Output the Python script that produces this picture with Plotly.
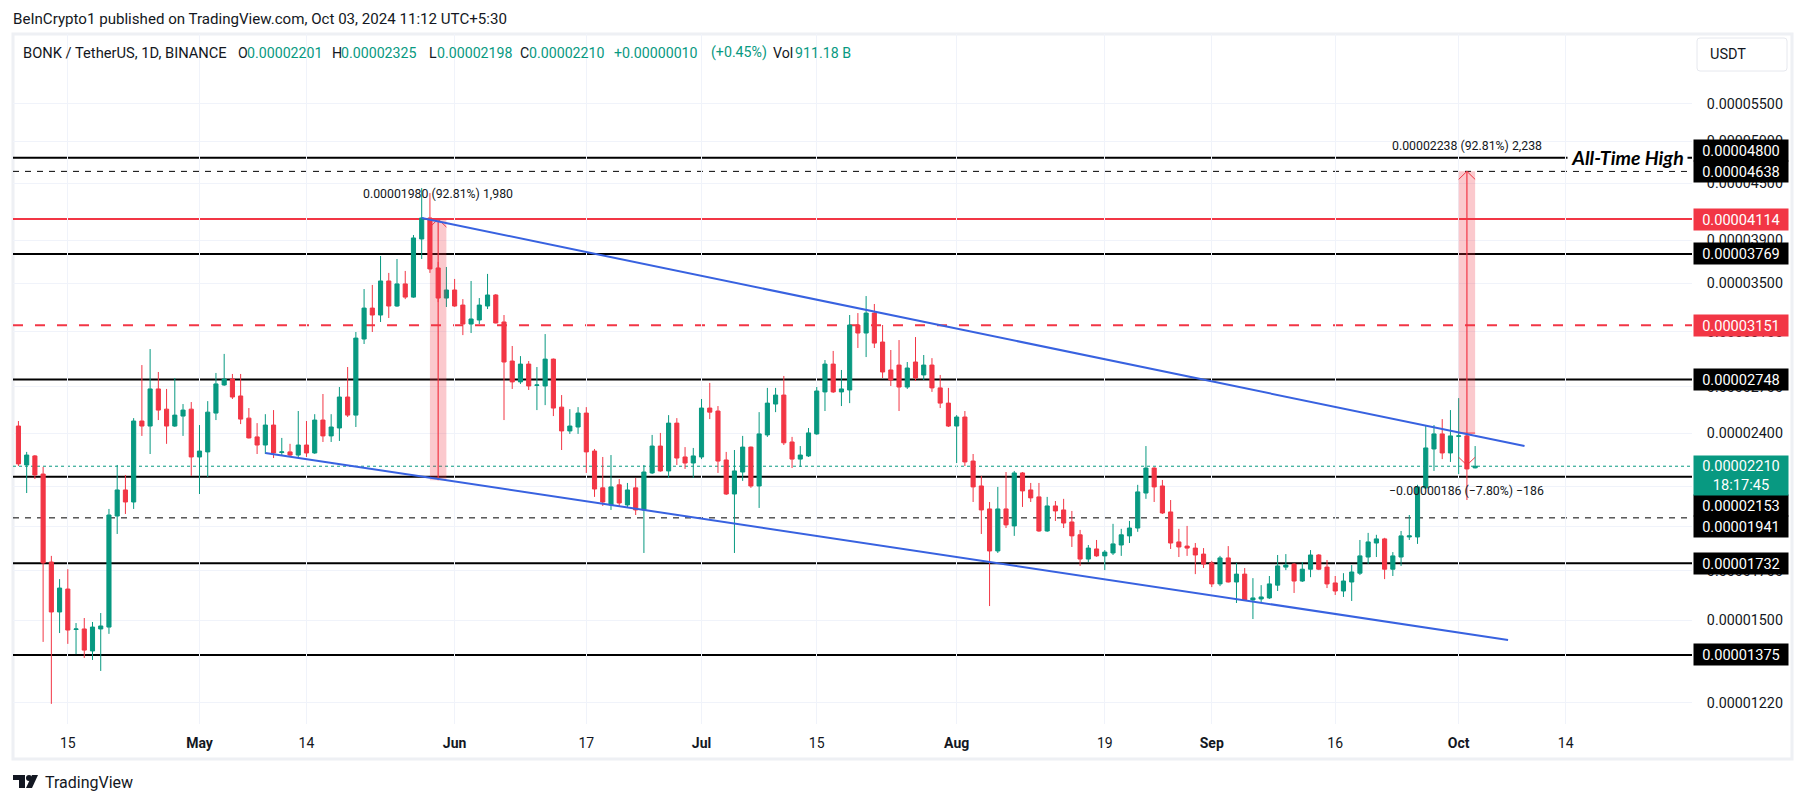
import math
import datetime as dt
import plotly.graph_objects as go

# prices are in units of 0.00000001 USDT
UNIT = 1e-8
start_date = dt.date(2024, 4, 9)

opens = [
    2445, 2217, 2268, 2167, 1737, 1532, 1623, 1466, 1468, 1389,
    1468, 1475, 1950, 2082, 2020, 2476, 2445, 2684, 2551, 2445,
    2507, 2551, 2262, 2291, 2526, 2711, 2752, 2637, 2494, 2379,
    2331, 2451, 2288, 2291, 2273, 2331, 2285, 2482, 2385, 2433,
    2630, 2513, 3043, 3289, 3232, 3521, 3306, 3495, 3381, 3913,
    4125, 3638, 3373, 3442, 3314, 3160, 3192, 3306, 3399, 3176,
    2879, 2732, 2857, 2708, 2704, 2893, 2564, 2415, 2439, 2526,
    2296, 2093, 2005, 2109, 2005, 2093, 1980, 2173, 2325, 2184,
    2463, 2262, 2228, 2262, 2558, 2539, 2245, 2061, 2178, 2319,
    2103, 2391, 2584, 2643, 2349, 2250, 2268, 2397, 2664, 2857,
    2664, 2677, 3152, 3089, 3248, 3020, 2815, 2850, 2697, 2872,
    2780, 2850, 2691, 2590, 2445, 2501, 2239, 2103, 1985, 1786,
    1985, 1902, 2173, 2082, 2046, 1878, 2000, 1980, 1921, 1860,
    1750, 1795, 1764, 1777, 1813, 1855, 1892, 2066, 2200, 2103,
    1970, 1827, 1808, 1799, 1772, 1733, 1644, 1755, 1652, 1685,
    1579, 1583, 1587, 1639, 1715, 1728, 1656, 1706, 1768, 1715,
    1648, 1615, 1652, 1689, 1759, 1822, 1841, 1706, 1759, 1850,
    1850, 2093, 2308, 2397, 2285, 2383, 2385, 2201,
]
highs = [
    2476, 2291, 2273, 2206, 1764, 1664, 1706, 1490, 1509, 1494,
    1528, 1985, 2217, 2162, 2494, 2850, 2967, 2801, 2684, 2759,
    2584, 2597, 2451, 2603, 2794, 2931, 2787, 2787, 2558, 2463,
    2519, 2545, 2373, 2338, 2539, 2476, 2519, 2650, 2519, 2697,
    2836, 3097, 3450, 3486, 3749, 3593, 3721, 3611, 3952, 4447,
    4392, 3694, 3647, 3539, 3364, 3521, 3373, 3584, 3407, 3232,
    2990, 2915, 2879, 2836, 3081, 2897, 2643, 2551, 2564, 2564,
    2308, 2262, 2273, 2140, 2119, 2146, 2217, 2391, 2403, 2513,
    2494, 2319, 2314, 2617, 2725, 2571, 2291, 2302, 2385, 2322,
    2532, 2691, 2691, 2773, 2379, 2325, 2433, 2697, 2886, 2953,
    2815, 3232, 3248, 3390, 3323, 3152, 2960, 3035, 2872, 3058,
    2923, 2900, 2780, 2691, 2513, 2539, 2279, 2157, 2020, 2098,
    2178, 2184, 2178, 2119, 2119, 2046, 2025, 2036, 1975, 1883,
    1813, 1836, 1790, 1912, 1888, 1926, 2109, 2325, 2204, 2135,
    2030, 1888, 1902, 1822, 1799, 1742, 1764, 1808, 1733, 1711,
    1668, 1639, 1677, 1768, 1772, 1732, 1737, 1790, 1772, 1746,
    1677, 1689, 1724, 1836, 1869, 1860, 1846, 1781, 1878, 1955,
    2109, 2445, 2451, 2488, 2545, 2623, 2391, 2325,
]
lows = [
    2211, 2066, 2140, 1421, 1216, 1453, 1414, 1378, 1365, 1358,
    1321, 1450, 1864, 1960, 1985, 2385, 2279, 2482, 2338, 2440,
    2385, 2157, 2061, 2151, 2482, 2705, 2617, 2457, 2370, 2279,
    2279, 2256, 2273, 2262, 2256, 2262, 2280, 2349, 2349, 2355,
    2501, 2439, 3005, 3097, 3176, 3208, 3300, 3364, 3375, 3721,
    3593, 3339, 3298, 3300, 3073, 3089, 3160, 3281, 3165, 2482,
    2684, 2718, 2677, 2545, 2577, 2507, 2302, 2397, 2397, 2173,
    2046, 2000, 1980, 1995, 1990, 1955, 1777, 2167, 2180, 2146,
    2217, 2195, 2146, 2250, 2488, 2173, 2056, 1777, 2130, 2093,
    1990, 2379, 2532, 2331, 2200, 2206, 2262, 2392, 2539, 2657,
    2571, 2590, 2975, 2908, 2975, 2759, 2704, 2539, 2684, 2738,
    2745, 2664, 2558, 2439, 2228, 2211, 2020, 1864, 1555, 1777,
    1892, 1855, 1995, 2020, 1874, 1874, 1926, 1892, 1804, 1720,
    1737, 1760, 1702, 1768, 1764, 1822, 1874, 2036, 2020, 1960,
    1795, 1759, 1764, 1685, 1711, 1631, 1635, 1650, 1567, 1575,
    1505, 1571, 1583, 1615, 1702, 1607, 1652, 1672, 1702, 1627,
    1599, 1591, 1575, 1681, 1728, 1759, 1664, 1677, 1720, 1836,
    1818, 2090, 2184, 2250, 2234, 2167, 2030, 2198,
]
closes = [
    2223, 2273, 2162, 1733, 1532, 1627, 1464, 1468, 1392, 1475,
    1479, 1955, 2082, 2020, 2476, 2445, 2684, 2545, 2445, 2513,
    2545, 2262, 2296, 2532, 2718, 2752, 2630, 2488, 2373, 2331,
    2451, 2285, 2291, 2273, 2331, 2285, 2482, 2385, 2439, 2630,
    2513, 3050, 3289, 3232, 3521, 3306, 3495, 3381, 3923, 4125,
    3629, 3373, 3442, 3306, 3160, 3200, 3314, 3399, 3168, 2872,
    2732, 2857, 2704, 2711, 2893, 2558, 2415, 2445, 2526, 2291,
    2087, 2020, 2098, 2015, 2082, 1980, 2178, 2325, 2184, 2463,
    2256, 2228, 2268, 2558, 2532, 2239, 2061, 2184, 2319, 2103,
    2397, 2590, 2643, 2344, 2250, 2273, 2403, 2670, 2857, 2664,
    2684, 3152, 3089, 3248, 3012, 2801, 2745, 2697, 2829, 2759,
    2850, 2691, 2590, 2445, 2501, 2234, 2098, 1980, 1786, 1985,
    1907, 2173, 2077, 2041, 1878, 2000, 1975, 1916, 1855, 1750,
    1799, 1764, 1781, 1818, 1860, 1892, 2072, 2200, 2098, 1965,
    1822, 1804, 1799, 1768, 1728, 1644, 1755, 1652, 1685, 1579,
    1587, 1591, 1644, 1720, 1724, 1656, 1706, 1768, 1706, 1644,
    1615, 1656, 1694, 1764, 1827, 1841, 1706, 1764, 1855, 1855,
    2098, 2314, 2397, 2285, 2385, 2385, 2195, 2210,
]

# horizontal levels: value, colour, dash, width
level_values = [4800, 4638, 4114, 3769, 3151, 2748, 2153, 1941, 1732, 1375]
level_colors = ["#000000", "#000000", "#f23645", "#000000", "#f23645",
                "#000000", "#000000", "#000000", "#000000", "#000000"]
level_dashes = ["solid", "6px,6px", "solid", "solid", "10px,12px",
                "solid", "solid", "6px,6px", "solid", "solid"]
level_widths = [2, 1, 2, 2, 2, 2, 2, 1, 2, 2]
# labels pushed apart on the price scale, as TradingView does
level_label_shift = [7, 0, 0, 0, 0, 0, -28.5, -9, 0, 0]

# channel
upper_dates = ["2024-05-28", "2024-10-09"]
upper_prices = [4125, 2325]
lower_dates = ["2024-05-09", "2024-10-07"]
lower_prices = [2285, 1428]

# measure tools
measure_dates = [("2024-05-29", "2024-05-30", "2024-05-31"),
                 ("2024-10-01", "2024-10-02", "2024-10-03")]
measure_prices = [(2134, 4114), (2400, 4638)]
drop_prices = (2402, 2216)

tick_prices = [5500, 5000, 4500, 3900, 3500, 3100, 2700, 2400, 2100, 1900, 1700, 1500, 1220]
tick_dates = ["2024-04-15", "2024-05-01", "2024-05-14", "2024-06-01", "2024-06-17", "2024-07-01", "2024-07-15",
              "2024-08-01", "2024-08-19", "2024-09-01", "2024-09-16", "2024-10-01", "2024-10-14"]
tick_date_labels = ["15", "<b>May</b>", "14", "<b>Jun</b>", "17", "<b>Jul</b>", "15",
                    "<b>Aug</b>", "19", "<b>Sep</b>", "16", "<b>Oct</b>", "14"]

GREEN = "#089981"
RED = "#f23645"
DARK = "#131722"
GRID = "#f0f3fa"
BLUE = "#3862e0"
FONT = "Roboto"

# the page body adds 8px around the figure
PAGE = 8
W, H = 1805 - 2 * PAGE, 803 - 2 * PAGE
L, R, T, B = 13 - PAGE, 1692 - PAGE, 34 - PAGE, 724 - PAGE


def fmt(v):
    return f"{v * UNIT:.8f}"


def px(x):
    return (x - PAGE - L) / (R - L)


def py(y):
    return (B - (y - PAGE)) / (B - T)


dates = [start_date + dt.timedelta(days=i) for i in range(len(closes))]

fig = go.Figure(go.Candlestick(
    x=dates,
    open=[v * UNIT for v in opens],
    high=[v * UNIT for v in highs],
    low=[v * UNIT for v in lows],
    close=[v * UNIT for v in closes],
    increasing=dict(line=dict(color=GREEN, width=1), fillcolor=GREEN),
    decreasing=dict(line=dict(color=RED, width=1), fillcolor=RED),
    whiskerwidth=0,
    hoverinfo="skip",
    showlegend=False,
))

shapes = []
# outer frame
shapes.append(dict(type="rect", xref="paper", yref="paper", x0=0, x1=px(1792), y0=py(759), y1=1,
                   line=dict(color="#eef0f4", width=3), layer="below"))
for v, c, d, w in zip(level_values, level_colors, level_dashes, level_widths):
    shapes.append(dict(type="line", xref="paper", yref="y", x0=0, x1=1, y0=v * UNIT, y1=v * UNIT,
                       line=dict(color=c, dash=d, width=w), layer="below"))
# last price
shapes.append(dict(type="line", xref="paper", yref="y", x0=0, x1=1, y0=closes[-1] * UNIT, y1=closes[-1] * UNIT,
                   line=dict(color=GREEN, dash="dot", width=1), layer="below"))

for (d0, dm, d1), (lo, hi) in zip(measure_dates, measure_prices):
    shapes.append(dict(type="rect", x0=d0, x1=d1, y0=lo * UNIT, y1=hi * UNIT, yref="y", xref="x",
                       fillcolor="rgba(242,54,69,0.27)", line=dict(width=0), layer="above"))
    shapes.append(dict(type="line", x0=dm, x1=dm, y0=lo * UNIT, y1=hi * UNIT, yref="y", xref="x",
                       line=dict(color=RED, width=1.2), layer="above"))
    # arrow head
    for side in (d0, d1):
        shapes.append(dict(type="line", x0=side, x1=dm, y0=hi * UNIT * 0.98, y1=hi * UNIT, yref="y", xref="x",
                           line=dict(color=RED, width=1), layer="above"))

# the small drop measured on the last candles
d0, dm, d1 = measure_dates[1]
shapes.append(dict(type="line", x0=d0, x1=d1, y0=drop_prices[0] * UNIT, y1=drop_prices[0] * UNIT, yref="y", xref="x",
                   line=dict(color=RED, width=1), layer="above"))
shapes.append(dict(type="line", x0=dm, x1=dm, y0=drop_prices[0] * UNIT, y1=drop_prices[1] * UNIT, yref="y", xref="x",
                   line=dict(color=RED, width=1.2), layer="above"))
for side in (d0, d1):
    shapes.append(dict(type="line", x0=side, x1=dm, y0=drop_prices[1] * UNIT * 1.02, y1=drop_prices[1] * UNIT,
                       yref="y", xref="x", line=dict(color=RED, width=1), layer="above"))

# channel
shapes.append(dict(type="line", x0=upper_dates[0], x1=upper_dates[1], y0=upper_prices[0] * UNIT,
                   y1=upper_prices[1] * UNIT, yref="y", xref="x", line=dict(color=BLUE, width=2), layer="above"))
shapes.append(dict(type="line", x0=lower_dates[0], x1=lower_dates[1], y0=lower_prices[0] * UNIT,
                   y1=lower_prices[1] * UNIT, yref="y", xref="x", line=dict(color=BLUE, width=2), layer="above"))

# USDT button
shapes.append(dict(type="path", xref="paper", yref="paper", xsizemode="pixel", ysizemode="pixel", xanchor=0, yanchor=0,
                   path="M 1687 686 L 1771 686 Q 1774 686 1774 683 L 1774 656 Q 1774 653 1771 653 "
                        "L 1687 653 Q 1684 653 1684 656 L 1684 683 Q 1684 686 1687 686 Z",
                   line=dict(color="#e6e8ee", width=1), fillcolor="white", layer="above"))

# TradingView logo
for path in ["M 0 -51 L 12 -51 L 12 -64 L 6 -64 L 6 -56 L 0 -56 Z",
             "M 13 -54 Q 13 -51 16 -51 Q 19 -51 19 -54 Q 19 -57 16 -57 Q 13 -57 13 -54 Z",
             "M 19 -51 L 25 -51 L 19 -64 L 13 -64 Z"]:
    shapes.append(dict(type="path", xref="paper", yref="paper", xsizemode="pixel", ysizemode="pixel",
                       xanchor=0, yanchor=0, path=path, line=dict(width=0), fillcolor=DARK, layer="above"))

annotations = []


def text_at(text, x, y, size=14.2, color=DARK, **kw):
    annotations.append(dict(text=text, xref="paper", yref="paper", x=px(x), y=py(y), xanchor="left", yanchor="middle",
                            showarrow=False, font=dict(family=FONT, size=size, color=color), **kw))


text_at("BeInCrypto1 published on TradingView.com, Oct 03, 2024 11:12 UTC+5:30", 11, 19, size=15.1)
text_at("TradingView", 43, 782, size=16)

header_texts = ["BONK / TetherUS, 1D, BINANCE", "O", fmt(2201), "H", fmt(2325), "L", fmt(2198), "C", fmt(2210),
                "+0.00000010", "(+0.45%)", "Vol", "911.18 B"]
header_xs = [21, 235.5, 245, 330, 339, 427, 435, 518, 527, 612, 709, 771, 793]
header_colors = [DARK, DARK, GREEN, DARK, GREEN, DARK, GREEN, DARK, GREEN, GREEN, GREEN, DARK, GREEN]
for t, x, c in zip(header_texts, header_xs, header_colors):
    text_at(t, x, 53, color=c, size=14.7 if x == 21 else 14.2)

text_at("USDT", 1708, 54.5, size=14.5)

# price scale labels
for v, c, s in zip(level_values, level_colors, level_label_shift):
    annotations.append(dict(text=fmt(v), xref="paper", yref="y", x=1, y=math.log10(v * UNIT), xshift=1, yshift=s,
                            xanchor="left", yanchor="middle", showarrow=False, width=94, height=21, align="center",
                            bgcolor=c, borderpad=0, font=dict(family=FONT, size=14.6, color="white")))
annotations.append(dict(text=fmt(closes[-1]) + "<br>18:17:45", xref="paper", yref="y", x=1,
                        y=math.log10(closes[-1] * UNIT), xshift=1, yshift=-9, xanchor="left", yanchor="middle",
                        showarrow=False, width=94, height=39, align="center", bgcolor=GREEN, borderpad=0,
                        font=dict(family=FONT, size=14.6, color="white")))

# measure captions
annotations.append(dict(text="0.00001980 (92.81%) 1,980", x=measure_dates[0][1], y=math.log10(4114 * UNIT), yshift=25,
                        showarrow=False, font=dict(family=FONT, size=12.3, color=DARK)))
annotations.append(dict(text="0.00002238 (92.81%) 2,238", x=measure_dates[1][1], y=math.log10(4638 * UNIT), yshift=25,
                        showarrow=False, font=dict(family=FONT, size=12.3, color=DARK)))
annotations.append(dict(text="\u22120.00000186 (\u22127.80%) \u2212186", x=measure_dates[1][1],
                        y=math.log10(drop_prices[1] * UNIT), yshift=-26, showarrow=False,
                        font=dict(family=FONT, size=12.3, color=DARK)))

# line label, masks the 4800 level under it
annotations.append(dict(text="<b><i>All-Time High</i></b>", xref="paper", yref="y", x=px(1567), xanchor="left",
                        y=math.log10(4800 * UNIT), yshift=0, showarrow=False, bgcolor="white", width=117, align="center",
                        font=dict(family="Lato", size=19.5, color="#000000")))

fig.update_layout(
    width=W,
    height=H,
    margin=dict(l=L, r=W - R, t=T, b=H - B, autoexpand=False),
    paper_bgcolor="white",
    plot_bgcolor="white",
    showlegend=False,
    boxgap=0.5,
    boxgroupgap=0,
    font=dict(family=FONT, size=14, color=DARK),
    shapes=shapes,
    annotations=annotations,
    xaxis=dict(
        type="date",
        range=["2024-04-08 08:10", "2024-10-29 08:24"],
        rangeslider=dict(visible=False),
        tickmode="array",
        tickvals=tick_dates,
        ticktext=tick_date_labels,
        ticks="outside",
        ticklen=6,
        tickcolor="rgba(0,0,0,0)",
        tickfont=dict(family=FONT, size=14, color=DARK),
        showgrid=True,
        gridcolor=GRID,
        gridwidth=1,
        zeroline=False,
        showline=False,
    ),
    yaxis=dict(
        type="log",
        side="right",
        range=[math.log10(1156 * UNIT), math.log10(6551 * UNIT)],
        tickmode="array",
        tickvals=[v * UNIT for v in tick_prices],
        ticktext=[fmt(v) for v in tick_prices],
        ticks="outside",
        ticklen=11,
        tickcolor="rgba(0,0,0,0)",
        tickfont=dict(family=FONT, size=14.3, color=DARK),
        showgrid=True,
        gridcolor=GRID,
        gridwidth=1,
        zeroline=False,
        showline=False,
    ),
)

fig.write_html("out.html")
